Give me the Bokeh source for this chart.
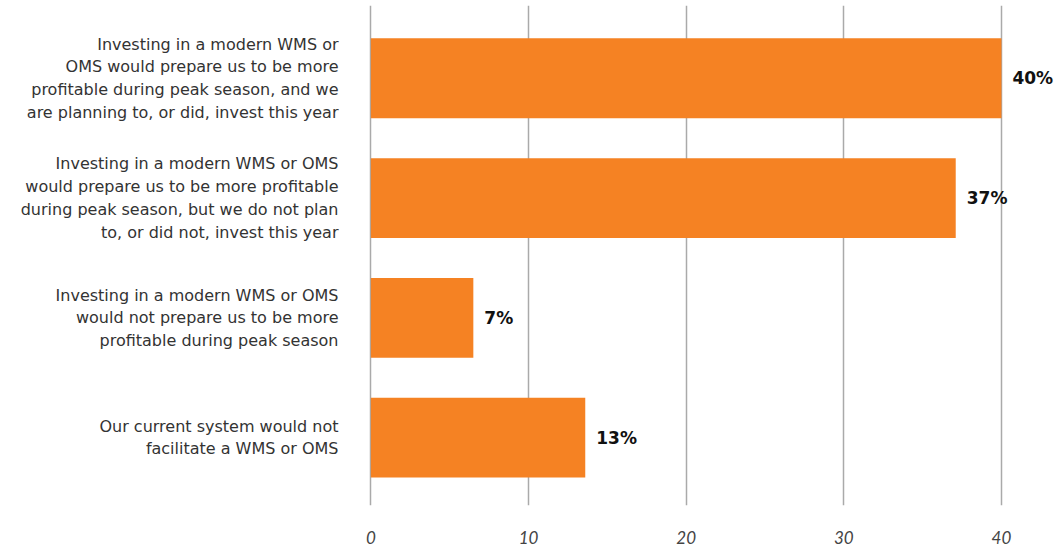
from bokeh.plotting import figure
from bokeh.models import FixedTicker, Range1d, ColumnDataSource
from bokeh.embed import file_html
from bokeh.resources import INLINE
from bokeh.core.properties import value

categories = [
    "Investing in a modern WMS or\nOMS would prepare us to be more\nprofitable during peak season, and we\nare planning to, or did, invest this year",
    "Investing in a modern WMS or OMS\nwould prepare us to be more profitable\nduring peak season, but we do not plan\nto, or did not, invest this year",
    "Investing in a modern WMS or OMS\nwould not prepare us to be more\nprofitable during peak season",
    "Our current system would not\nfacilitate a WMS or OMS",
]
values = [40, 37.1, 6.5, 13.6]
value_labels = ["40%", "37%", "7%", "13%"]
x_ticks = [0, 10, 20, 30, 40]

ypos = [3, 2, 1, 0]

src = ColumnDataSource(dict(y=ypos, v=values, lab=value_labels))

p = figure(width=1064, height=546, output_backend="svg", toolbar_location=None,
           x_range=Range1d(-0.15, 44), y_range=Range1d(-0.567, 3.608),
           min_border_left=368, min_border_right=0, min_border_top=5, min_border_bottom=41)
p.outline_line_color = None
p.background_fill_color = "white"

p.hbar(y="y", right="v", left=0, height=0.667, source=src, color="#F58223", line_color=None)
p.text(x="v", y="y", text="lab", source=src, x_offset=11, text_baseline="middle",
       text_align="left", text_font=value("DejaVu Sans"), text_font_style="bold",
       text_font_size="17px", text_color="#111111")

p.xaxis.ticker = FixedTicker(ticks=x_ticks)
p.xaxis.axis_line_color = None
p.xaxis.major_tick_line_color = None
p.xaxis.minor_tick_line_color = None
p.xaxis.major_label_standoff = 19
p.xaxis.major_label_text_font = "Lato"
p.xaxis.major_label_text_font_style = "italic"
p.xaxis.major_label_text_font_size = "17px"
p.xaxis.major_label_text_color = "#444444"

p.xgrid.ticker = FixedTicker(ticks=x_ticks)
p.xgrid.grid_line_color = "#aaaaaa"
p.xgrid.grid_line_width = 1.5
p.ygrid.grid_line_color = None

p.yaxis.ticker = FixedTicker(ticks=ypos)
p.yaxis.major_label_overrides = {y: c for y, c in zip(ypos, categories)}
p.yaxis.axis_line_color = None
p.yaxis.major_tick_line_color = None
p.yaxis.minor_tick_line_color = None
p.yaxis.major_label_standoff = 24
p.yaxis.major_label_text_font = "DejaVu Sans"
p.yaxis.major_label_text_font_size = "16px"
p.yaxis.major_label_text_color = "#333333"
p.yaxis.major_label_text_align = "right"

open("out.html", "w").write(file_html(p, INLINE))
